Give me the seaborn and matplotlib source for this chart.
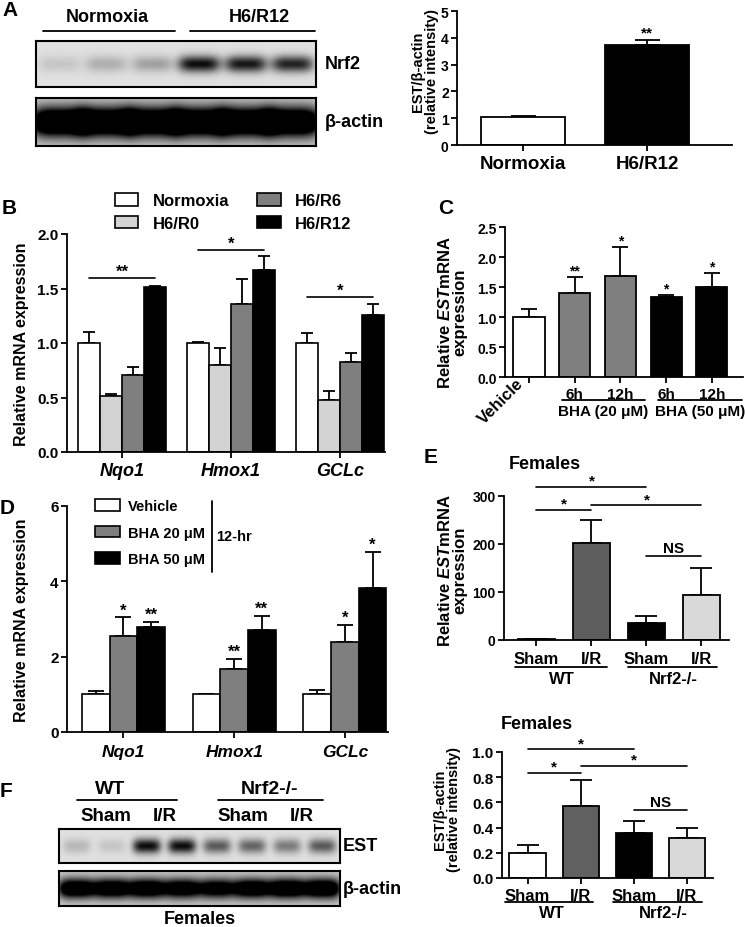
import numpy as np
import pandas as pd
import seaborn as sns
import matplotlib.pyplot as plt
from matplotlib.patches import Patch
from matplotlib.lines import Line2D
from matplotlib.ticker import FormatStrFormatter

W, H = 745, 928

# panel A
a_groups = ['Normoxia', 'H6/R12']
a_values = [1.03, 3.74]
a_errors = [0.07, 0.19]
a_nrf2_bands = [0.12, 0.22, 0.28, 0.95, 0.9, 0.85]
a_actin_bands = [1.0, 1.0, 1.0, 1.0, 1.0, 1.0]

# panel B
b_genes = ['Nqo1', 'Hmox1', 'GCLc']
b_groups = ['Normoxia', 'H6/R0', 'H6/R6', 'H6/R12']
b_normoxia = [1.0, 1.0, 1.0]
b_h6r0 = [0.51, 0.80, 0.475]
b_h6r6 = [0.71, 1.36, 0.83]
b_h6r12 = [1.51, 1.67, 1.26]
b_err_normoxia = [0.10, 0.005, 0.09]
b_err_h6r0 = [0.02, 0.15, 0.085]
b_err_h6r6 = [0.07, 0.225, 0.08]
b_err_h6r12 = [0.015, 0.13, 0.095]
b_sig_y = [1.6, 1.855, 1.42]
b_sig_text = ['**', '*', '*']

# panel C
c_keys = ['Vehicle', 'BHA20 6h', 'BHA20 12h', 'BHA50 6h', 'BHA50 12h']
c_ticklabels = ['', '6h', '12h', '6h', '12h']
c_values = [1.0, 1.405, 1.69, 1.33, 1.5]
c_errors = [0.14, 0.255, 0.48, 0.04, 0.23]
c_stars = ['', '**', '*', '*', '*']

# panel D
d_genes = ['Nqo1', 'Hmox1', 'GCLc']
d_groups = ['Vehicle', 'BHA 20 μM', 'BHA 50 μM']
d_vehicle = [1.0, 1.0, 1.0]
d_bha20 = [2.56, 1.67, 2.39]
d_bha50 = [2.80, 2.70, 3.81]
d_err_vehicle = [0.09, 0.005, 0.12]
d_err_bha20 = [0.48, 0.27, 0.45]
d_err_bha50 = [0.13, 0.38, 0.97]
d_stars_vehicle = ['', '', '']
d_stars_bha20 = ['*', '**', '*']
d_stars_bha50 = ['**', '**', '*']

# panels E and F
ef_keys = ['WT Sham', 'WT I/R', 'KO Sham', 'KO I/R']
ef_ticklabels = ['Sham', 'I/R', 'Sham', 'I/R']
e_values = [1.5, 203, 36, 94]
e_errors = [1.0, 47, 13, 57]
e_brackets = [(0, 2, 319, '*'), (0, 1, 271, '*'), (1, 3, 281, '*'), (2, 3, 174, 'NS')]
f_values = [0.196, 0.57, 0.36, 0.32]
f_errors = [0.065, 0.21, 0.09, 0.08]
f_brackets = [(0, 2, 1.02, '*'), (0, 1, 0.833, '*'), (1, 3, 0.889, '*'), (2, 3, 0.536, 'NS')]
f_est_bands = [0.18, 0.12, 0.95, 0.95, 0.6, 0.55, 0.45, 0.6]
f_actin_bands = [0.95, 0.95, 0.95, 0.9, 0.85, 0.95, 1.0, 1.0]

sns.set_style('ticks', {'axes.edgecolor': 'black', 'xtick.color': 'black',
                        'ytick.color': 'black', 'text.color': 'black',
                        'axes.labelcolor': 'black'})
plt.rcParams['font.family'] = ['Liberation Sans', 'DejaVu Sans']
plt.rcParams['font.weight'] = 'bold'
plt.rcParams['mathtext.fontset'] = 'custom'
plt.rcParams['mathtext.it'] = 'Liberation Sans:italic:bold'
plt.rcParams['mathtext.rm'] = 'Liberation Sans:bold'
plt.rcParams['mathtext.bf'] = 'Liberation Sans:bold'

fig = plt.figure(figsize=(W / 100, H / 100), dpi=100)


def add_ax(x0, y0, x1, y1):
    return fig.add_axes([x0 / W, 1 - y1 / H, (x1 - x0) / W, (y1 - y0) / H])


def ftext(x, y, s, size, **kw):
    kw.setdefault('ha', 'center')
    kw.setdefault('va', 'center')
    fig.text(x / W, 1 - y / H, s, fontsize=size, fontweight='bold', **kw)


def fline(x0, x1, y0, y1=None):
    if y1 is None:
        y1 = y0
    fig.add_artist(Line2D([x0 / W, x1 / W], [1 - y0 / H, 1 - y1 / H], color='black', lw=1.3))


def style(ax, ylim, yticks, ysize, xsize, xpad, fmt=None):
    sns.despine(ax=ax)
    for s in ['left', 'bottom']:
        ax.spines[s].set_linewidth(1.3)
    ax.set_ylim(*ylim)
    ax.set_yticks(yticks)
    if fmt:
        ax.yaxis.set_major_formatter(FormatStrFormatter(fmt))
    ax.tick_params(axis='both', direction='out', length=4, width=1.3, color='black')
    ax.tick_params(axis='y', labelsize=ysize, pad=2)
    ax.tick_params(axis='x', labelsize=xsize, pad=xpad)
    ax.set_xlabel('')
    ax.set_ylabel('')


def add_errors(ax, errs, capsize=4):
    bars = sorted(ax.patches, key=lambda p: p.get_x())
    for bar, e in zip(bars, errs):
        x = bar.get_x() + bar.get_width() / 2
        ax.errorbar(x, bar.get_height(), yerr=[[0], [e]], fmt='none', ecolor='black',
                    elinewidth=1.3, capsize=capsize, capthick=1.3, zorder=0.5)
    return bars


def center(bar):
    return bar.get_x() + bar.get_width() / 2


def star(ax, x, y, s, size, off=2):
    ax.annotate(s, (x, y), xytext=(0, off), textcoords='offset points', ha='center',
                va='baseline', fontsize=size, fontweight='bold', annotation_clip=False)


def bracket(ax, bars, items, size):
    for i, j, y, s in items:
        x0, x1 = center(bars[i]), center(bars[j])
        ax.plot([x0, x1], [y, y], color='black', lw=1.2, clip_on=False)
        star(ax, (x0 + x1) / 2, y, s, size, off=1.5 if s != 'NS' else 3)


def draw_blot(ax, bands, spread, thick, gain=1.0, base=0.88):
    xs = np.linspace(0, 1, 600)
    ys = np.linspace(0, 1, 120)
    X, Y = np.meshgrid(xs, ys)
    dark = np.zeros_like(X)
    n = len(bands)
    for i, b in enumerate(bands):
        cx = (i + 0.5) / n
        dark += b * np.exp(-((X - cx) / spread) ** 4) * np.exp(-((Y - 0.5) / thick) ** 2)
    img = base - base * np.clip(dark * gain, 0, 1)
    ax.imshow(img, cmap='gray', vmin=0, vmax=1, extent=[0, 1, 0, 1], aspect='auto',
              interpolation='bilinear')
    ax.set_xticks([])
    ax.set_yticks([])
    for s in ax.spines.values():
        s.set_visible(True)
        s.set_linewidth(1.5)


# ---------------- A
ax = add_ax(36, 42, 316, 88)
draw_blot(ax, a_nrf2_bands, 0.075, 0.18)
ax = add_ax(36, 99, 316, 147)
draw_blot(ax, a_actin_bands, 0.1, 0.3, gain=1.8, base=0.8)
ftext(107, 17, 'Normoxia', 13)
ftext(259, 17, 'H6/R12', 13)
fline(43, 175, 32)
fline(190, 315, 32)
ftext(325, 65, 'Nrf2', 13, ha='left')
ftext(325, 123, 'β-actin', 13, ha='left')

ax = add_ax(457, 12, 732, 146)
sns.barplot(x=a_groups, y=a_values, hue=a_groups, palette=['white', 'black'], width=0.68,
            edgecolor='black', linewidth=1.3, errorbar=None, saturation=1, legend=False, ax=ax)
bars = add_errors(ax, a_errors, capsize=9)
star(ax, center(bars[1]), a_values[1] + a_errors[1], '**', 11)
style(ax, (0, 5), range(6), 10, 13.5, 3)
ax.set_xlim(-0.53, 1.685)
ftext(425, 72, 'EST/β-actin\n(relative intensity)', 10.5, rotation=90, linespacing=1.0)

# ---------------- B
rows = []
for g, vals in zip(b_groups, [b_normoxia, b_h6r0, b_h6r6, b_h6r12]):
    for gene, v in zip(b_genes, vals):
        rows.append({'gene': gene, 'group': g, 'value': v})
df_b = pd.DataFrame(rows)
b_colors = ['white', '#d3d3d3', '#7f7f7f', 'black']
ax = add_ax(67, 235, 385, 453)
sns.barplot(data=df_b, x='gene', y='value', hue='group', order=b_genes, hue_order=b_groups,
            palette=b_colors, width=0.8, edgecolor='black', linewidth=1.2, errorbar=None,
            saturation=1, legend=False, ax=ax)
b_err = np.array([b_err_normoxia, b_err_h6r0, b_err_h6r6, b_err_h6r12]).T.ravel()
bars = add_errors(ax, b_err, capsize=4)
for i, (y, s) in enumerate(zip(b_sig_y, b_sig_text)):
    x0, x1 = center(bars[4 * i]), center(bars[4 * i + 3])
    ax.plot([x0, x1], [y, y], color='black', lw=1.2)
    star(ax, (x0 + x1) / 2, y, s, 12, off=1.5)
style(ax, (0, 2), np.arange(0, 2.01, 0.5), 11, 13, 3, fmt='%.1f')
ax.set_xlim(-0.505, 2.413)
for lbl in ax.get_xticklabels():
    lbl.set_fontstyle('italic')
handles = [Patch(facecolor=c, edgecolor='black', linewidth=1.2, label=g)
           for c, g in zip(b_colors, b_groups)]
ax.legend(handles=handles, ncol=2, loc='lower left', bbox_to_anchor=((115 - 67) / 318, 1.015),
          frameon=False, prop={'size': 12, 'weight': 'bold'}, handlelength=1.4,
          handleheight=0.75, handletextpad=0.85, columnspacing=1.7, labelspacing=0.45,
          borderpad=0, borderaxespad=0)
ftext(22, 344, 'Relative mRNA expression', 11.5, rotation=90)

# ---------------- C
c_colors = ['white', '#7f7f7f', '#7f7f7f', 'black', 'black']
ax = add_ax(505, 228, 743, 378)
sns.barplot(x=c_keys, y=c_values, hue=c_keys, palette=c_colors, width=0.68,
            edgecolor='black', linewidth=1.3, errorbar=None, saturation=1, legend=False, ax=ax)
bars = add_errors(ax, c_errors, capsize=6)
for bar, v, e, s in zip(bars, c_values, c_errors, c_stars):
    if s:
        star(ax, center(bar), v + e, s, 10, off=2)
style(ax, (0, 2.5), np.arange(0, 2.51, 0.5), 10, 11, 3, fmt='%.1f')
ax.set_xlim(-0.525, 4.68)
ax.set_xticks(range(len(c_keys)))
ax.set_xticklabels(c_ticklabels)
ftext(501, 402, 'Vehicle', 12, rotation=45)
fline(562, 645, 401)
fline(658, 742, 401)
ftext(603, 412, 'BHA (20 μM)', 11)
ftext(700, 412, 'BHA (50 μM)', 11)
ftext(452, 312, 'Relative $EST$mRNA\nexpression', 12, rotation=90, linespacing=1.0)

# ---------------- D
rows = []
for g, vals in zip(d_groups, [d_vehicle, d_bha20, d_bha50]):
    for gene, v in zip(d_genes, vals):
        rows.append({'gene': gene, 'group': g, 'value': v})
df_d = pd.DataFrame(rows)
d_colors = ['white', '#7f7f7f', 'black']
ax = add_ax(67, 507, 388, 733)
sns.barplot(data=df_d, x='gene', y='value', hue='group', order=d_genes, hue_order=d_groups,
            palette=d_colors, width=0.75, edgecolor='black', linewidth=1.2, errorbar=None,
            saturation=1, legend=False, ax=ax)
d_vals = np.array([d_vehicle, d_bha20, d_bha50]).T.ravel()
d_err = np.array([d_err_vehicle, d_err_bha20, d_err_bha50]).T.ravel()
d_st = np.array([d_stars_vehicle, d_stars_bha20, d_stars_bha50]).T.ravel()
bars = add_errors(ax, d_err, capsize=6)
for bar, v, e, s in zip(bars, d_vals, d_err, d_st):
    if s:
        star(ax, center(bar), v + e, s, 12, off=2)
style(ax, (0, 6), [0, 2, 4, 6], 11, 12.5, 5)
ax.set_xlim(-0.51, 2.39)
for lbl in ax.get_xticklabels():
    lbl.set_fontstyle('italic')
handles = [Patch(facecolor=c, edgecolor='black', linewidth=1.2, label=g)
           for c, g in zip(d_colors, d_groups)]
ax.legend(handles=handles, loc='upper left', bbox_to_anchor=(0.087, 1.03), frameon=False,
          prop={'size': 10.5, 'weight': 'bold'}, handlelength=1.7, handleheight=0.85,
          handletextpad=0.55, labelspacing=0.85, borderpad=0, borderaxespad=0)
fline(212, 212, 502, 573)
ftext(216, 537, '12-hr', 10.5, ha='left')
ftext(22, 620, 'Relative mRNA expression', 11.5, rotation=90)

# ---------------- E
ef_colors_e = ['white', '#5e5e5e', 'black', '#d9d9d9']
ax = add_ax(504, 497, 729, 641)
sns.barplot(x=ef_keys, y=e_values, hue=ef_keys, palette=ef_colors_e, width=0.67,
            edgecolor='black', linewidth=1.3, errorbar=None, saturation=1, legend=False, ax=ax)
bars = add_errors(ax, e_errors, capsize=8)
bracket(ax, bars, e_brackets, 11)
style(ax, (0, 300), [0, 100, 200, 300], 10, 12, 4)
ax.set_xlim(-0.59, 3.5)
ax.set_xticks(range(4))
ax.set_xticklabels(ef_ticklabels)
fline(515, 607, 668)
fline(628, 717, 668)
ftext(562, 679, 'WT', 12)
ftext(673, 679, 'Nrf2-/-', 12)
ftext(545, 465, 'Females', 13)
ftext(452, 570, 'Relative $EST$mRNA\nexpression', 12, rotation=90, linespacing=1.0)

# ---------------- F
ax = add_ax(59, 830, 340, 864)
draw_blot(ax, f_est_bands, 0.05, 0.22)
ax = add_ax(59, 872, 340, 907)
draw_blot(ax, f_actin_bands, 0.065, 0.28, gain=1.6, base=0.8)
ftext(110, 790, 'WT', 14)
ftext(270, 790, 'Nrf2-/-', 14)
fline(77, 177, 801)
fline(218, 323, 801)
for x, s in zip([106, 165, 243, 302], ef_ticklabels):
    ftext(x, 817, s, 13.5)
ftext(343, 847, 'EST', 13, ha='left')
ftext(343, 890, 'β-actin', 13, ha='left')
ftext(200, 920, 'Females', 13)

ef_colors_f = ['white', '#606060', 'black', '#d9d9d9']
ax = add_ax(502, 753, 713, 879)
sns.barplot(x=ef_keys, y=f_values, hue=ef_keys, palette=ef_colors_f, width=0.68,
            edgecolor='black', linewidth=1.3, errorbar=None, saturation=1, legend=False, ax=ax)
bars = add_errors(ax, f_errors, capsize=8)
bracket(ax, bars, f_brackets, 11)
style(ax, (0, 1), np.arange(0, 1.01, 0.2), 11, 12, 3, fmt='%.1f')
ax.set_xlim(-0.48, 3.49)
ax.set_xticks(range(4))
ax.set_xticklabels(ef_ticklabels)
fline(505, 593, 903)
fline(613, 702, 903)
ftext(552, 914, 'WT', 12)
ftext(663, 914, 'Nrf2-/-', 12)
ftext(537, 725, 'Females', 13)
ftext(447, 810, 'EST/β-actin\n(relative intensity)', 10.5, rotation=90, linespacing=1.0)

# panel letters
for x, y, s in [(10, 10, 'A'), (9, 209, 'B'), (446, 209, 'C'), (7, 508, 'D'),
                (431, 458, 'E'), (6, 792, 'F')]:
    ftext(x, y, s, 15)

fig.savefig('out.png', dpi=100)
